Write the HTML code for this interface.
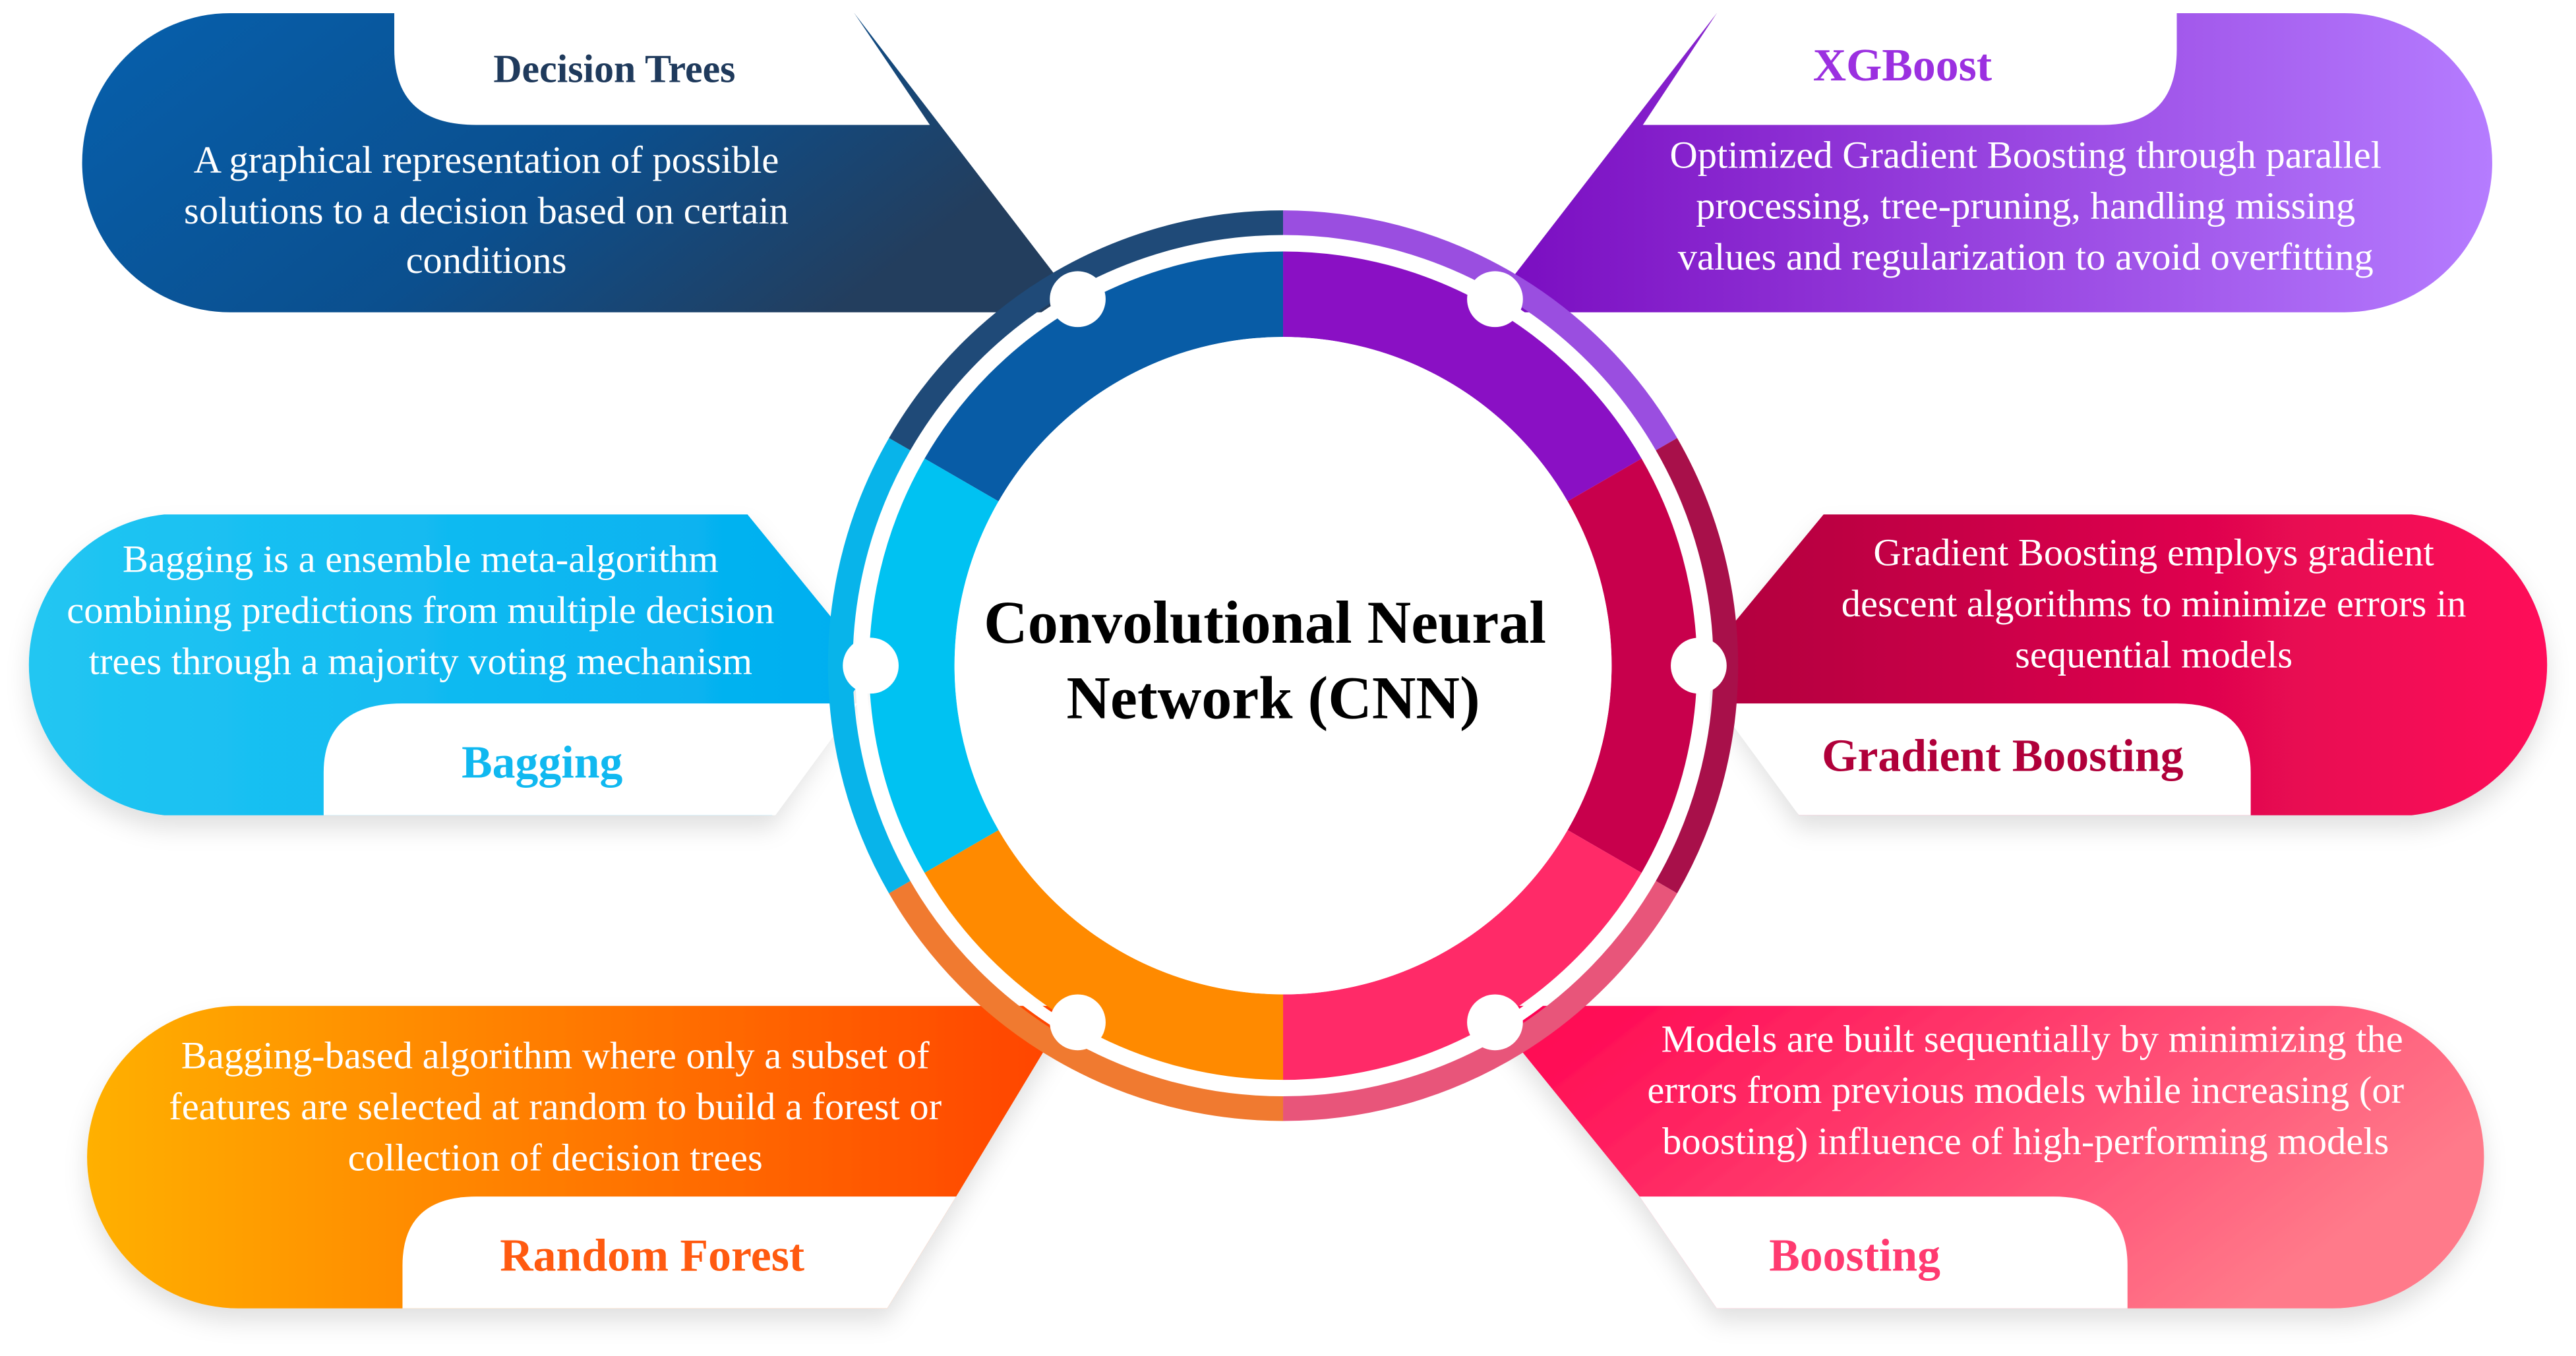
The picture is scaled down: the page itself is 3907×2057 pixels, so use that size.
<!DOCTYPE html>
<html><head><meta charset="utf-8"><style>
html,body{margin:0;padding:0;background:#fff;}
svg{display:block;}
text{font-family:"Liberation Serif",serif;}
</style></head><body>
<svg width="3907" height="2057" viewBox="0 0 1568 825" preserveAspectRatio="none" xmlns="http://www.w3.org/2000/svg">
<defs>
<linearGradient id="gDT" x1="0" y1="0" x2="1" y2="0.4"><stop offset="0" stop-color="#0660ad"/><stop offset="0.6" stop-color="#0b4f8e"/><stop offset="1" stop-color="#233e5e"/></linearGradient>
<linearGradient id="gXG" x1="0" y1="0" x2="1" y2="0"><stop offset="0" stop-color="#7a0cc0"/><stop offset="1" stop-color="#b57cff"/></linearGradient>
<linearGradient id="gBG" x1="0" y1="0" x2="1" y2="0"><stop offset="0" stop-color="#22c6f2"/><stop offset="1" stop-color="#00aef0"/></linearGradient>
<linearGradient id="gGB" x1="0" y1="0" x2="1" y2="0"><stop offset="0" stop-color="#b0003e"/><stop offset="1" stop-color="#ff0a5a"/></linearGradient>
<linearGradient id="gRF" x1="0" y1="0" x2="1" y2="0"><stop offset="0" stop-color="#ffb000"/><stop offset="1" stop-color="#ff4200"/></linearGradient>
<linearGradient id="gBO" x1="0" y1="0" x2="1" y2="0.4"><stop offset="0" stop-color="#ff0050"/><stop offset="1" stop-color="#ff7a8a"/></linearGradient>
<filter id="sh" x="-10%" y="-10%" width="120%" height="140%"><feDropShadow dx="0" dy="8" stdDeviation="7" flood-color="#000" flood-opacity="0.12"/></filter>
</defs>

<!-- Decision Trees -->
<path d="M140,8 H520 L652,180 L640,190 H140 A90,91 0 0 1 140,8 Z" fill="url(#gDT)"/>
<path d="M240,8 H520 L566,76 H290 Q240,76 240,30 Z" fill="#fff"/>
<!-- XGBoost -->
<path d="M1045,8 H1427 A90,91 0 0 1 1427,190 H925 L912,180 Z" fill="url(#gXG)"/>
<path d="M1045,8 H1325 V30 Q1325,76 1280,76 H1000 Z" fill="#fff"/>
<!-- Bagging -->
<path d="M100,313 H455 L530,405 L470,496 H100 A92,92 0 0 1 100,313 Z" fill="url(#gBG)" filter="url(#sh)"/>
<path d="M197,496 V470 Q197,428 245,428 H522 L472,496 Z" fill="#fff"/>
<!-- Gradient Boosting -->
<path d="M1110,313 H1468 A92,92 0 0 1 1468,496 H1095 L1034,405 Z" fill="url(#gGB)" filter="url(#sh)"/>
<path d="M1045,428 H1325 Q1370,428 1370,470 V496 H1095 Z" fill="#fff"/>
<!-- Random Forest -->
<path d="M145,612 H652 L582,728 L540,796 H145 A92,92 0 0 1 145,612 Z" fill="url(#gRF)" filter="url(#sh)"/>
<path d="M245,796 V770 Q245,728 290,728 H582 L540,796 Z" fill="#fff"/>
<!-- Boosting -->
<path d="M915,612 H1420 A92,92 0 0 1 1420,796 H1045 L998,728 L912,622 Z" fill="url(#gBO)" filter="url(#sh)"/>
<path d="M998,728 H1250 Q1295,728 1295,770 V796 H1045 Z" fill="#fff"/>

<!-- Ring outer band -->
<g fill="none" stroke-width="15">
<path d="M547.6,270.25 A269.5,269.5 0 0 1 781,135.5" stroke="#1f4a78"/>
<path d="M781,135.5 A269.5,269.5 0 0 1 1014.4,270.25" stroke="#9a4ee0"/>
<path d="M1014.4,270.25 A269.5,269.5 0 0 1 1014.4,539.75" stroke="#a8104a"/>
<path d="M1014.4,539.75 A269.5,269.5 0 0 1 781,674.5" stroke="#e8557a"/>
<path d="M781,674.5 A269.5,269.5 0 0 1 547.6,539.75" stroke="#f07a30"/>
<path d="M547.6,539.75 A269.5,269.5 0 0 1 547.6,270.25" stroke="#08b4ea"/>
</g>
<!-- Ring inner band -->
<g fill="none" stroke-width="52">
<path d="M585.3,292 A226,226 0 0 1 781,179" stroke="#085ca6"/>
<path d="M781,179 A226,226 0 0 1 976.7,292" stroke="#8a10c4"/>
<path d="M976.7,292 A226,226 0 0 1 976.7,518" stroke="#c8004c"/>
<path d="M976.7,518 A226,226 0 0 1 781,631" stroke="#ff2a68"/>
<path d="M781,631 A226,226 0 0 1 585.3,518" stroke="#ff8a00"/>
<path d="M585.3,518 A226,226 0 0 1 585.3,292" stroke="#00c2f2"/>
</g>
<circle cx="781" cy="405" r="257" fill="none" stroke="#fff" stroke-width="7"/>
<circle cx="781" cy="405" r="200" fill="#fff"/>

<!-- nodes -->
<g fill="#fff">
<circle cx="656" cy="182" r="17"/><circle cx="910" cy="182" r="17"/>
<circle cx="1034" cy="405" r="17"/><circle cx="910" cy="622" r="17"/>
<circle cx="656" cy="622" r="17"/><circle cx="530" cy="405" r="17"/>
</g>

<!-- center text -->
<g font-weight="bold" font-size="37" text-anchor="middle" fill="#000">
<text x="770" y="391">Convolutional Neural</text>
<text x="775" y="437">Network (CNN)</text>
</g>

<!-- titles -->
<g font-weight="bold" text-anchor="middle">
<text x="374" y="50" font-size="24" fill="#1f3a5c">Decision Trees</text>
<text x="1158" y="49" font-size="28" fill="#9b30e0">XGBoost</text>
<text x="330" y="473" font-size="28" fill="#10b8f0">Bagging</text>
<text x="1219" y="469" font-size="28" fill="#b0003a">Gradient Boosting</text>
<text x="397" y="773" font-size="28" fill="#ff5a10">Random Forest</text>
<text x="1129" y="773" font-size="28" fill="#ff3a70">Boosting</text>
</g>

<!-- body text -->
<g font-size="23.5" fill="#fff" text-anchor="middle">
<text x="296" y="105">A graphical representation of possible</text>
<text x="296" y="136">solutions to a decision based on certain</text>
<text x="296" y="166">conditions</text>
<text x="1233" y="102">Optimized Gradient Boosting through parallel</text>
<text x="1233" y="133">processing, tree-pruning, handling missing</text>
<text x="1233" y="164">values and regularization to avoid overfitting</text>
<text x="256" y="348">Bagging is a ensemble meta-algorithm</text>
<text x="256" y="379">combining predictions from multiple decision</text>
<text x="256" y="410">trees through a majority voting mechanism</text>
<text x="1311" y="344">Gradient Boosting employs gradient</text>
<text x="1311" y="375">descent algorithms to minimize errors in</text>
<text x="1311" y="406">sequential models</text>
<text x="338" y="650">Bagging-based algorithm where only a subset of</text>
<text x="338" y="681">features are selected at random to build a forest or</text>
<text x="338" y="712">collection of decision trees</text>
<text x="1237" y="640">Models are built sequentially by minimizing the</text>
<text x="1233" y="671">errors from previous models while increasing (or</text>
<text x="1233" y="702">boosting) influence of high-performing models</text>
</g>
</svg>
</body></html>
